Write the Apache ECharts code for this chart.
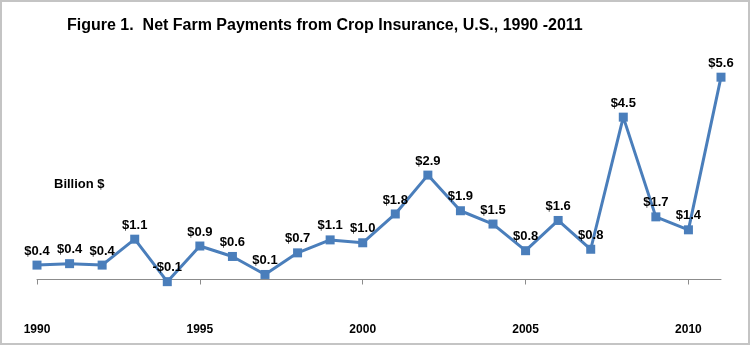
<!DOCTYPE html>
<html>
<head>
<meta charset="utf-8">
<script src="https://cdn.jsdelivr.net/npm/echarts@6/dist/echarts.min.js"></script>
<style>
html,body{margin:0;padding:0;background:#fff;}
#chart{width:750px;height:345px;}
</style>
</head>
<body>
<div id="chart"></div>
<script>
var years = ['1990','1991','1992','1993','1994','1995','1996','1997','1998','1999','2000','2001','2002','2003','2004','2005','2006','2007','2008','2009','2010','2011'];
var payments = [0.40,0.44,0.40,1.12,-0.06,0.93,0.64,0.14,0.74,1.10,1.02,1.82,2.90,1.91,1.54,0.80,1.64,0.84,4.51,1.74,1.38,5.62];
var titleText = 'Figure 1.  Net Farm Payments from Crop Insurance, U.S., 1990 -2011';
var unitText = 'Billion $';

var chart = echarts.init(document.getElementById('chart'));
chart.setOption({
  animation: false,
  backgroundColor: '#fff',
  graphic: [
    {type: 'rect', shape: {x: 1, y: 1, width: 748, height: 343}, style: {fill: 'none', stroke: '#c4c4c4', lineWidth: 2}, silent: true},
    {type: 'text', x: 67, y: 18, scaleX: 1.0, style: {text: titleText, font: 'bold 16px "Liberation Sans", Arial', fill: '#000'}},
    {type: 'text', x: 54, y: 178, style: {text: unitText, font: 'bold 13px "Liberation Sans", Arial', fill: '#000'}}
  ],
  grid: {left: 37, right: 29, top: 63.5, bottom: 65.5, containLabel: false, outerBoundsMode: 'none'},
  xAxis: {
    type: 'category',
    data: years,
    boundaryGap: false,
    axisLine: {onZero: false, lineStyle: {color: '#8c8c8c', width: 1}},
    axisTick: {show: true, length: 5, interval: function (i) { return i % 5 === 0; }, lineStyle: {color: '#8c8c8c'}},
    axisLabel: {show: true, interval: function (i) { return i % 5 === 0; }, margin: 44, fontFamily: '"Liberation Sans", Arial', fontWeight: 'bold', fontSize: 12, color: '#000'}
  },
  yAxis: {
    type: 'value',
    min: 0,
    max: 6,
    show: false,
    splitLine: {show: false}
  },
  series: [{
    type: 'line',
    data: payments,
    clip: false,
    symbol: 'rect',
    symbolSize: 9,
    lineStyle: {color: '#4a7ebb', width: 3},
    itemStyle: {color: '#4a7ebb'},
    label: {
      show: true,
      position: 'top',
      distance: 3,
      fontFamily: '"Liberation Sans", Arial',
      fontWeight: 'bold',
      fontSize: 13,
      color: '#000',
      formatter: function (p) {
        var v = p.value;
        return (v < 0 ? '-$' : '$') + Math.abs(v).toFixed(1);
      }
    }
  }]
});
</script>
</body>
</html>
